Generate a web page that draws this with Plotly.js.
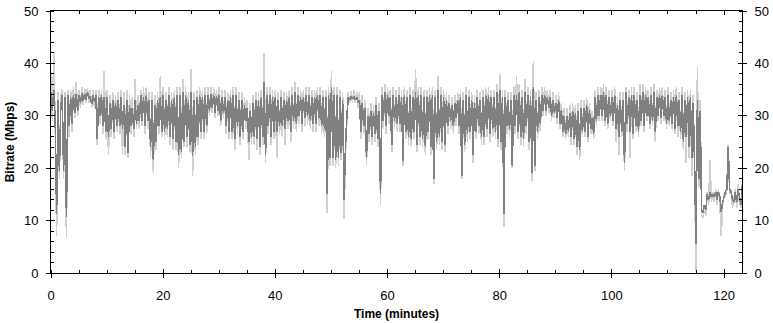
<!DOCTYPE html>
<html>
<head>
<meta charset="utf-8">
<script src="https://cdn.plot.ly/plotly-3.0.1.min.js"></script>
<style>
html,body{margin:0;padding:0;background:#fff;}
#chart{width:773px;height:323px;}
#chart .scatterlayer path.js-line{shape-rendering:crispEdges !important;}
#chart .xtick, #chart .ytick{}
</style>
</head>
<body>
<div id="chart"></div>
<script>
// Sampling grid: one sample every 0.25 minutes, starting at 0
const sampleStart = 0;
const sampleStep = 0.25;

// Smoothed bitrate (Mbps), 4 samples per minute (row = minute)
const smoothedByMinute = [
[34.5,31,35,29],[11.3,33,19.5,32],[34,19.5,33.5,10.6],[34,28,33.5,28.5],[34,30.5,34.2,31],
[34,32.5,34.3,32.8],[34.2,33,34.5,33.2],[33.8,32.2,34,32.6],[34,25.5,33.5,30],[34,28,33.5,27], // 0-9
[33.5,26,32.5,27.5],[33,27,32.5,28],[33,28,33.5,27.5],[32,24,33,23],[32,28,31.5,27.5],
[33,28.5,32,29],[34,29,33.5,28],[34,29,33,24],[33,21.5,32,25],[33,28,33.5,27], // 10-19
[34,27,33,27.5],[34,26,33,25.5],[33.5,25,34,22.5],[34,23,34.5,25],[34,26,33,24.5],
[34.5,22.3,33,24],[33.5,26,34,27],[33.5,27,34,28],[34,31,34.2,31.5],[34,30.5,33.8,31], // 20-29
[34,29,33.5,30.5],[33.5,28,33,27],[33.5,27,34,25.5],[34,28,33,26],[33,27,32,29],
[31.5,25,31,26],[32.5,26,33,25.5],[33,24,33.5,26],[36.5,22.5,34,28],[34,26,33.5,27], // 30-39
[33.5,27,33,28],[33.5,28,33,27.5],[33,29,33.5,27],[34,29,34.5,28.5],[34,30,33.5,28.5],
[33.5,29.5,34,30],[34,29,33.5,28.5],[33.5,28.5,34,29.5],[34,28,33.5,27.5],[33.5,15,34,22], // 40-49
[35.5,22,34,21.5],[34,22,33.5,23],[33,14,24,30],[33.5,33,33.8,33.2],[33.8,33,33.5,32.5],
[33,27,32.5,28],[31.5,22,30,26.5],[31,26,30.5,26.5],[32,25.5,31,15],[34,29,34.5,28], // 50-59
[34,30,33.5,24.5],[34,29,33.5,28.5],[34,28.5,33.5,21.3],[34,27,33.5,26],[34,25.5,33.5,27],
[34.5,24.5,34,26],[34,25.5,33.5,24],[33.5,27,34,24],[34,18,33.5,25],[35,26,34,25], // 60-69
[33.5,24.5,33,28],[32.5,29,32,28],[32.5,29.5,33,28],[33.5,18.5,33,24.5],[34,26.5,33.5,27],
[33,22.5,32.5,27],[33.5,28,33,26],[33.5,26,34,27.5],[34,26.5,33.5,27.5],[33.5,27,34.5,25.5], // 70-79
[35,25,33.5,11.3],[33.5,28,33,27.5],[33,20.5,34,28],[34,27,34.5,26],[33.5,25.5,34.5,28],
[34,25,33.5,19],[35.5,20.5,33,27],[33.5,28.5,34,31],[34,31,33.5,31.5],[33.5,30,33,30.5], // 80-89
[32.5,29.5,33,28.5],[31,27,30,26.5],[30,27,30.5,26],[31,25.5,30.5,24],[31,23.5,31.5,27],
[31.5,27,32,26],[31,27.5,29.5,26.5],[33.5,29,34,30],[34,30,34.5,29],[34,28.5,33.5,30], // 90-99
[33.5,29,34,27.5],[32,26,33,27],[33,21,34.5,28.5],[33.5,27,34,26.5],[34,28,33,27],
[34,29,34.5,28],[34,30,33.5,28.5],[34,29,34.5,27],[33.5,30,34,29.5],[34,30,33.5,28.5], // 100-109
[34,29,33,28.5],[33.5,27.5,34,28],[33,27,34,25],[33,26,33.5,24],[33.5,22,32.5,20.5],
[5.6,33,18,31],[12,11.5,13,12],[15,14,15.5,14.5],[15,14.5,15.5,14],[15.5,14.5,11.7,13.5], // 110-119
[14.5,15.5,16,24],[16,15.5,14,13.5],[15.5,13.5,16,14.5],[13,16.5] // 120-123
];

// Raw bitrate (Mbps), 4 samples per minute (row = minute)
const rawByMinute = [
[38,29,42,28],[7,34.5,18,34],[35,18,34.5,6.6],[35,26,35,27],[35.5,29.5,36.5,30],
[35,31.5,35.5,32],[35.2,32.5,35.3,32.5],[35,31.5,35,31.5],[35,24.5,35,28.5],[35,26.5,38.5,25.5], // 0-9
[35,22.5,34,26],[34.5,25.5,34,27],[34.5,26.5,35,22.5],[34.5,22.5,35,22],[34,26.5,33.5,26],
[37,27.5,34,27.5],[35,28,35.5,26.5],[35.5,27.5,34.5,22],[34.5,19,34,23.5],[34.5,26.5,37.5,26], // 10-19
[35.5,25.5,34.5,26],[35.5,24.5,34.5,23.5],[35,23.5,35.5,20],[35.5,22,37,24],[35.5,24,34.5,23],
[39,18.5,34.5,22.5],[35,24.5,35.5,25.5],[35,25.5,35.5,26.5],[35.5,30,35.5,30.5],[35.5,29.5,35,30], // 20-29
[35.5,28,35,29.5],[35,26.5,34.5,25.5],[35,25.5,35.5,23.5],[35.5,26.5,34.5,24.5],[34.5,25.5,33.5,27.5],
[33,21.5,32.5,24.5],[34,24.5,34.5,23.5],[34.5,22.5,35,24.5],[42,21,35.5,26.5],[35.5,24.5,35,25.5], // 30-39
[35,22,34.5,26.5],[35,26,34.5,24.5],[34.5,27.5,35,25],[35.5,27.5,36.5,27],[35.5,28.5,35,27],
[35,28,35.5,28.5],[35.5,27.5,35,27],[35,27,35.5,28],[35.5,26.5,35,26],[35,11.5,35.5,20.5], // 40-49
[38.5,20.5,35.5,20],[35.5,20.5,35,21.5],[34.5,10.3,22.5,29],[34.5,32.5,34.8,32.5],[35,32.5,34.5,31.5],
[34.5,25.5,34,26.5],[33,20.5,31.5,25],[32.5,24.5,32,25],[33.5,24,32.5,13],[35.5,27.5,36,26.5], // 50-59
[35.5,28.5,35,23],[35.5,27.5,35,27],[35.5,27,35,20.5],[35.5,25.5,35,24.5],[35.5,24,35,25.5],
[39,23,35.5,24.5],[35.5,24,35,22.5],[35,25.5,35.5,22.5],[35.5,17,35,23.5],[37.5,24.5,35.5,23.5], // 60-69
[35,23,34.5,26.5],[34,27.5,33.5,26.5],[34,28,34.5,26.5],[35,18,34.5,23],[35.5,25,35,25.5],
[34.5,21,34,25.5],[35,26.5,34.5,24.5],[35,24.5,35.5,26],[35.5,25,35,26],[35,25.5,36,24], // 70-79
[38,23.5,35,8.8],[35,26.5,34.5,26],[34.5,20,35.5,26.5],[37.5,25.5,36,24.5],[35,24,37,26.5],
[35.5,23.5,35,17.5],[40.5,19.5,34.5,25.5],[35,27,35.5,30],[35.5,30,35,30.5],[35,29,34.5,29.5], // 80-89
[34,28.5,34.5,27.5],[32.5,26,31.5,25.5],[31.5,26,32,24.5],[32.5,24.5,32,22.5],[32.5,21.5,33,26],
[33,26,33.5,25],[32.5,26.5,31,25.5],[35,28,35.5,29],[35.5,29,36,28],[35.5,27.5,35,29], // 90-99
[35,28,35.5,25],[33.5,22.5,34.5,26],[34.5,19.5,35.5,27],[35,22,35.5,25.5],[35.5,27,34.5,26],
[36,28,36,27],[35.5,29,35,27.5],[35.5,28,36,25],[35,29,35.5,28.5],[35.5,29,35,27.5], // 100-109
[35.5,28,34.5,27.5],[35,26.5,35.5,26],[34.5,25.5,35.5,23.5],[34.5,21,35,22],[35,18.5,34,19],
[0.3,39.5,16.5,33],[11,10.5,12,11],[15.5,13,21.5,13.5],[15.5,13.5,16,13],[16,13.5,7,13], // 110-119
[15,14.5,16.5,24.5],[15,16,12.5,14],[16,12.5,17,13.5],[12.5,17] // 120-123
];

const xTickVals = [0, 20, 40, 60, 80, 100, 120];
const yTickVals = [0, 10, 20, 30, 40, 50];
const xTitle = 'Time (minutes)';
const yTitle = 'Bitrate (Mbps)';

const smoothed = smoothedByMinute.flat();
const raw = rawByMinute.flat();
const timeOf = arr => arr.map((_, i) => sampleStart + i * sampleStep);

const FONT = 'Arial, "Liberation Sans", sans-serif';
const xRange = [0, 123.2];
const yRange = [0, 50];

const traces = [
  {x: timeOf(raw), y: raw, type: 'scatter', mode: 'lines', line: {color: '#d0d0d0', width: 1.6, simplify: false}, hoverinfo: 'skip', showlegend: false},
  {x: timeOf(smoothed), y: smoothed, type: 'scatter', mode: 'lines', line: {color: '#808080', width: 1.6, simplify: false}, hoverinfo: 'skip', showlegend: false},
  {x: [null], y: [null], xaxis: 'x2', yaxis: 'y2', type: 'scatter', mode: 'lines', showlegend: false, hoverinfo: 'skip'},
  {x: [null], y: [null], xaxis: 'x3', yaxis: 'y3', type: 'scatter', mode: 'lines', showlegend: false, hoverinfo: 'skip'},
  {x: [null], y: [null], xaxis: 'x3', yaxis: 'y4', type: 'scatter', mode: 'lines', showlegend: false, hoverinfo: 'skip'}
];

const common = {showgrid: false, zeroline: false, tickcolor: '#000', tickwidth: 1, linecolor: '#000', linewidth: 1,
  tickfont: {family: FONT, size: 13, color: '#000'}, fixedrange: true};

const layout = {
  width: 773, height: 323,
  margin: {l: 51, r: 31, t: 11, b: 50, pad: 0},
  paper_bgcolor: '#fff', plot_bgcolor: '#fff',
  showlegend: false,
  xaxis: Object.assign({}, common, {
    range: xRange, tickmode: 'array', tickvals: xTickVals, ticks: 'outside', ticklen: 4,
    showline: true, ticklabelstandoff: 6,
    minor: {dtick: 5, ticks: 'inside', ticklen: 3, tickcolor: '#000', showgrid: false},
    title: {text: '<b>' + xTitle + '</b>', font: {family: FONT, size: 12, color: '#000'}, standoff: 8}
  }),
  xaxis2: Object.assign({}, common, {
    range: xRange, overlaying: 'x', side: 'bottom', anchor: 'y', tickmode: 'array', tickvals: xTickVals,
    ticks: 'inside', ticklen: 4, showticklabels: false, showline: false
  }),
  xaxis3: Object.assign({}, common, {
    range: xRange, overlaying: 'x', side: 'top', anchor: 'y', tickmode: 'array', tickvals: xTickVals,
    ticks: 'inside', ticklen: 4, showticklabels: false, showline: true,
    minor: {dtick: 5, ticks: 'inside', ticklen: 3, tickcolor: '#000', showgrid: false}
  }),
  yaxis: Object.assign({}, common, {
    range: yRange, tickmode: 'array', tickvals: yTickVals, ticks: 'outside', ticklen: 4,
    showline: true, ticklabelstandoff: 5,
    minor: {dtick: 2, ticks: 'inside', ticklen: 3, tickcolor: '#000', showgrid: false},
    title: {text: '<b>' + yTitle + '</b>', font: {family: FONT, size: 12, color: '#000'}, standoff: 6}
  }),
  yaxis2: Object.assign({}, common, {
    range: yRange, overlaying: 'y', side: 'left', anchor: 'x', tickmode: 'array', tickvals: yTickVals,
    ticks: 'inside', ticklen: 4, showticklabels: false, showline: false
  }),
  yaxis3: Object.assign({}, common, {
    range: yRange, overlaying: 'y', side: 'right', anchor: 'x', tickmode: 'array', tickvals: yTickVals,
    ticks: 'outside', ticklen: 4, showticklabels: true, showline: true, ticklabelstandoff: 5,
    minor: {dtick: 2, ticks: 'inside', ticklen: 3, tickcolor: '#000', showgrid: false}
  }),
  yaxis4: Object.assign({}, common, {
    range: yRange, overlaying: 'y', side: 'right', anchor: 'x', tickmode: 'array', tickvals: yTickVals,
    ticks: 'inside', ticklen: 4, showticklabels: false, showline: false
  })
};

Plotly.newPlot('chart', traces, layout, {staticPlot: true, displayModeBar: false});
</script>
</body>
</html>
